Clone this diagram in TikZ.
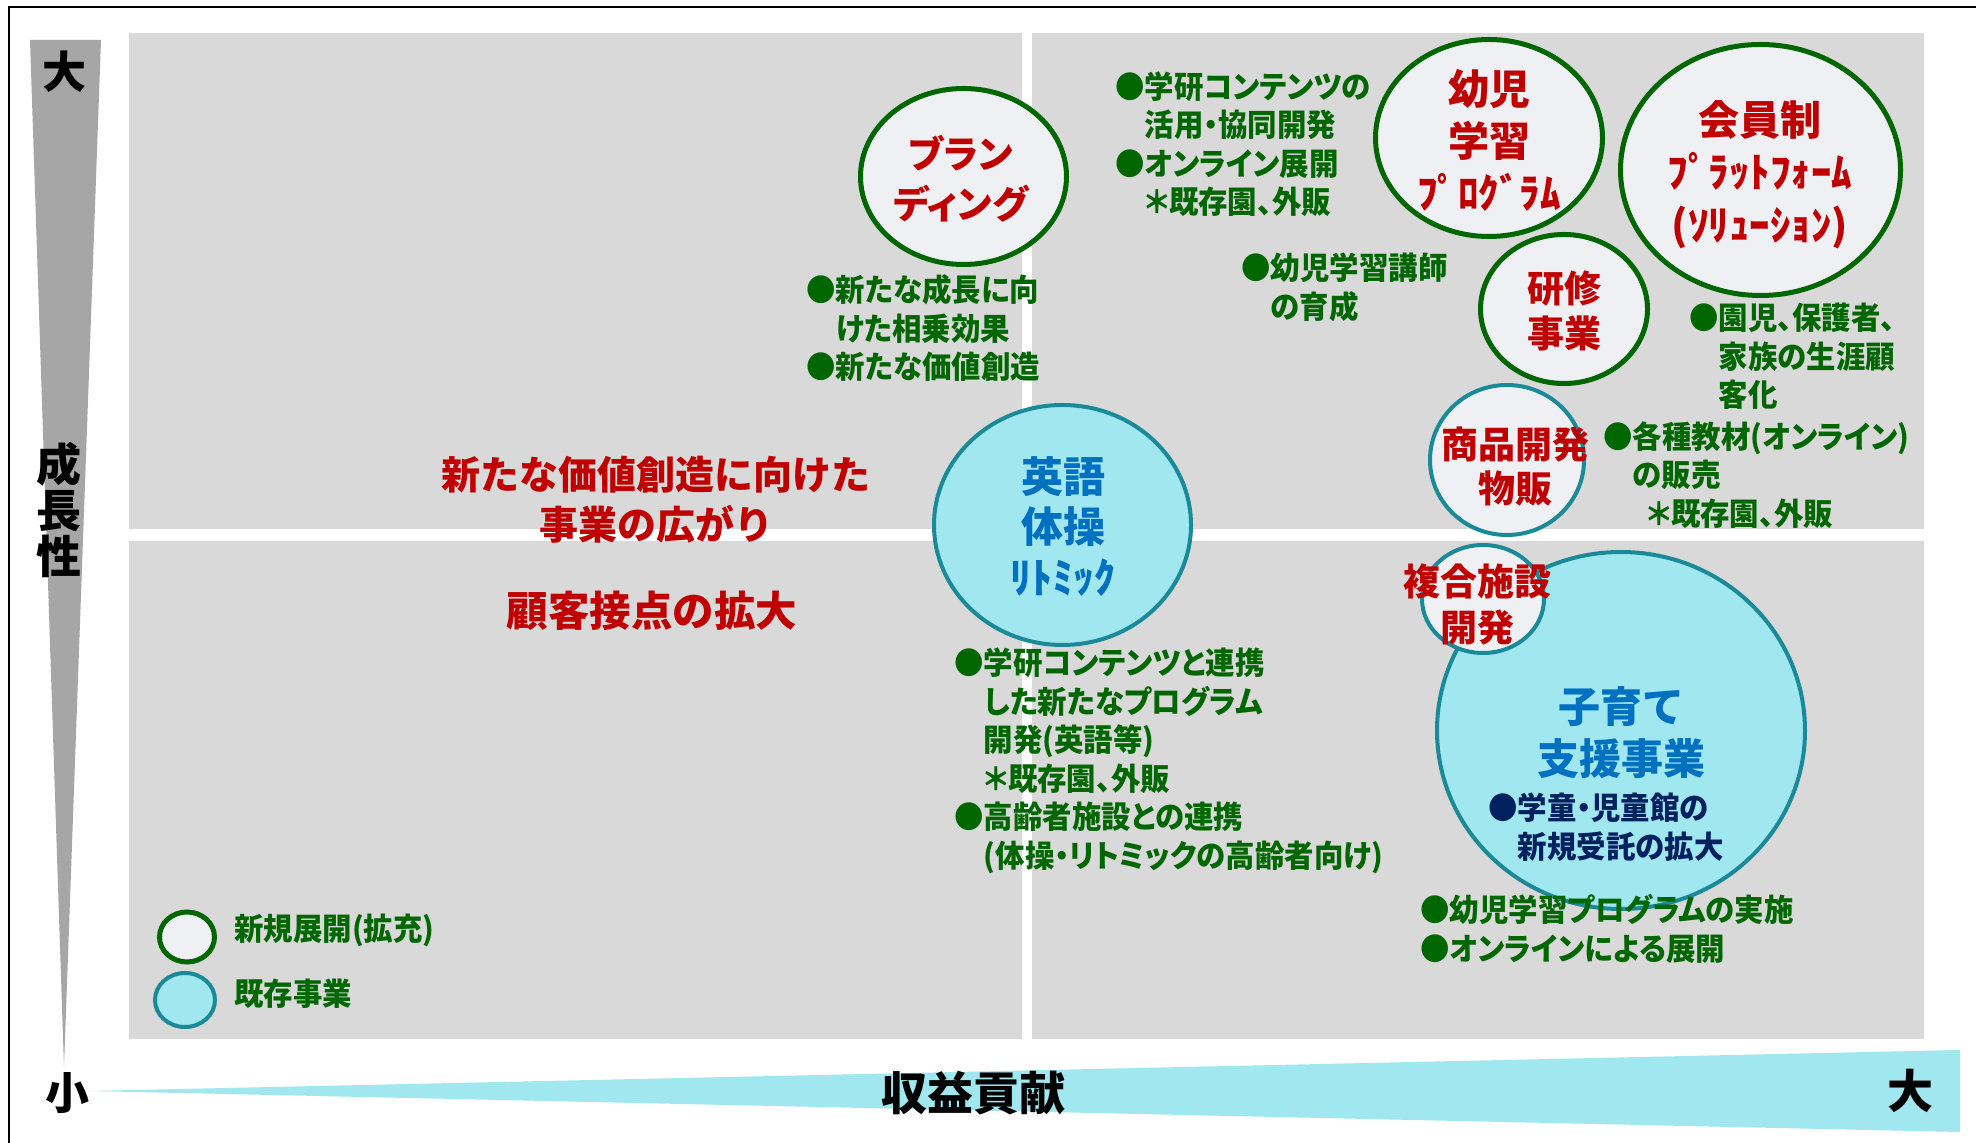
\documentclass[tikz,border=0pt]{standalone}
\usepackage{fontspec}
\usetikzlibrary{shapes.geometric}
\newfontfamily\jp{Noto Sans CJK JP}
\newfontfamily\jpp{Noto Sans CJK JP}[RawFeature=+palt]
\newfontfamily\jpn{Noto Sans CJK JP}[RawFeature=+palt, FakeStretch=0.95]
\definecolor{panelgray}{HTML}{D9D9D9}
\definecolor{axisgray}{HTML}{A6A6A6}
\definecolor{lightfill}{HTML}{EFF0F4}
\definecolor{cyanfill}{HTML}{A0E7EF}
\definecolor{tealline}{HTML}{1A8A98}
\definecolor{dgreen}{HTML}{006600}
\definecolor{dred}{HTML}{C00000}
\definecolor{dblue}{HTML}{0070C0}
\definecolor{navy}{HTML}{002060}
\newcommand{\js}{\rule[-0.12em]{0pt}{1em}}
\newcommand{\bp}{\hphantom{●}}
\begin{document}
\begin{tikzpicture}[x=0.5pt,y=-0.5pt,
  newc/.style={ellipse, draw=dgreen, line width=2.5pt, fill=lightfill, inner sep=0pt},
  newt/.style={ellipse, draw=tealline, line width=2pt, fill=lightfill, inner sep=0pt},
  oldc/.style={ellipse, draw=tealline, line width=2pt, fill=cyanfill, inner sep=0pt},
  ttl/.style={inner sep=0pt, align=center, anchor=center},
  gtxt/.style={inner sep=0pt, align=left, anchor=west, text=dgreen,
    font=\jpn\bfseries\fontsize{15.5pt}{19.3pt}\selectfont},
  axl/.style={inner sep=0pt, anchor=center, text=black}
]
\useasboundingbox (0,0) rectangle (1976,1143);
\fill[white] (0,0) rectangle (1976,1143);
\draw[line width=1pt] (9,1143) -- (9,7) -- (1976,7);
% panels
\fill[panelgray] (129,33) rectangle (1022,529);
\fill[panelgray] (1032,33) rectangle (1924,529);
\fill[panelgray] (129,541) rectangle (1022,1039);
\fill[panelgray] (1032,541) rectangle (1924,1039);
% axes
\fill[axisgray] (30,40) -- (101,40) -- (64,1067) -- cycle;
\fill[cyanfill] (89,1091) -- (1960,1050) -- (1960,1132) -- cycle;
\node[axl, font=\jp\bfseries\fontsize{22pt}{24pt}\selectfont] (atop) at (64,72) {大};
\node[axl, align=center, font=\jp\bfseries\fontsize{22.5pt}{23pt}\selectfont] (agrow) at (59,510) {成\\長\\性};
\node[axl, font=\jp\bfseries\fontsize{22pt}{24pt}\selectfont] (asmall) at (67,1093) {小};
\node[axl, font=\jp\bfseries\fontsize{23pt}{24pt}\selectfont] (arev) at (973,1093) {収益貢献};
\node[axl, font=\jp\bfseries\fontsize{23pt}{24pt}\selectfont] (abig) at (1910,1091) {大};
% circles
\node[newc, minimum width=103pt, minimum height=88pt] (brand) at (963.5,176.5) {};
\node[newc, minimum width=113.5pt, minimum height=98.5pt] (youji) at (1489,138) {};
\node[newc, minimum width=140pt, minimum height=125.5pt] (kaiin) at (1760.5,170) {};
\node[newc, minimum width=83.5pt, minimum height=74.5pt] (kenshu) at (1564,309) {};
\node[newt, minimum width=77pt, minimum height=75pt] (shohin) at (1507,460) {};
\node[oldc, minimum width=128.5pt, minimum height=120pt] (eigo) at (1062.5,525) {};
\node[oldc, minimum width=184pt, minimum height=178.5pt] (kosodate) at (1621,730.5) {};
\node[newt, minimum width=61pt, minimum height=54pt] (fukugo) at (1483,599) {};
\node[newc, minimum width=27.5pt, minimum height=25pt] (leg1) at (187,937) {};
\node[oldc, minimum width=30pt, minimum height=27pt] (leg2) at (185,1000) {};
% circle titles
\node[ttl, text=dred, font=\jpp\bfseries\fontsize{19pt}{25pt}\selectfont] (tbrand) at (961,179) {\js ブラン\\\js ディング};
\node[ttl, text=dred, font=\jp\bfseries\fontsize{20.5pt}{26pt}\selectfont] (tyouji) at (1489,141) {\js 幼児\\\js 学習\\\js ﾌﾟﾛｸﾞﾗﾑ};
\node[ttl, text=dred, font=\jp\bfseries\fontsize{20.5pt}{26.25pt}\selectfont] (tkaiin) at (1760,173.7) {\js 会員制\\\js ﾌﾟﾗｯﾄﾌｫｰﾑ\\\js (ｿﾘｭｰｼｮﾝ)};
\node[ttl, text=dred, font=\jp\bfseries\fontsize{18.5pt}{22.5pt}\selectfont] (tkenshu) at (1564,310.5) {\js 研修\\\js 事業};
\node[ttl, text=dred, font=\jp\bfseries\fontsize{18.5pt}{22pt}\selectfont] (tshohin) at (1515,466) {\js 商品開発\\\js 物販};
\node[ttl, text=dblue, font=\jp\bfseries\fontsize{21pt}{25.25pt}\selectfont] (teigo) at (1063,527) {\js 英語\\\js 体操\\\js ﾘﾄﾐｯｸ};
\node[ttl, text=dred, font=\jp\bfseries\fontsize{18.5pt}{23pt}\selectfont] (tfukugo) at (1477,604) {\js 複合施設\\\js 開発};
\node[ttl, text=dblue, font=\jp\bfseries\fontsize{21pt}{26pt}\selectfont] (tkosodate) at (1621,733) {\js 子育て\\\js 支援事業};
% red center texts
\node[ttl, text=dred, font=\jp\bfseries\fontsize{19.5pt}{25pt}\selectfont] (tred1) at (656,500) {\js 新たな価値創造に向けた\\\js 事業の広がり};
\node[ttl, text=dred, font=\jp\bfseries\fontsize{20.75pt}{25pt}\selectfont] (tred2) at (652,611) {\js 顧客接点の拡大};
% green notes
\node[gtxt] (g1) at (806,328.3) {\js●新たな成長に向\\\js\bp けた相乗効果\\\js●新たな価値創造};
\node[gtxt] (g2) at (1115,144.25) {\js●学研コンテンツの\\\js\bp 活用・協同開発\\\js●オンライン展開\\\js\bp ＊既存園、外販};
\node[gtxt] (g3) at (1241,287.5) {\js●幼児学習講師\\\js\bp の育成};
\node[gtxt] (g4) at (1689,356.3) {\js●園児、保護者、\\\js\bp 家族の生涯顧\\\js\bp 客化};
\node[gtxt] (g5) at (1603,475) {\js●各種教材(オンライン)\\\js\bp の販売\\\js\bp\hspace{7pt}＊既存園、外販};
\node[gtxt] (g6) at (954,760.5) {\js●学研コンテンツと連携\\\js\bp した新たなプログラム\\\js\bp 開発(英語等)\\\js\bp ＊既存園、外販\\\js●高齢者施設との連携\\\js\bp (体操・リトミックの高齢者向け)};
\node[gtxt] (g7) at (1420,929.5) {\js●幼児学習プログラムの実施\\\js●オンラインによる展開};
\node[gtxt, text=navy] (n8) at (1488,827) {\js●学童・児童館の\\\js\bp 新規受託の拡大};
% legend
\node[gtxt] (l1t) at (234,930) {\js 新規展開(拡充)};
\node[gtxt] (l2t) at (234,994) {\js 既存事業};
\end{tikzpicture}
\end{document}
